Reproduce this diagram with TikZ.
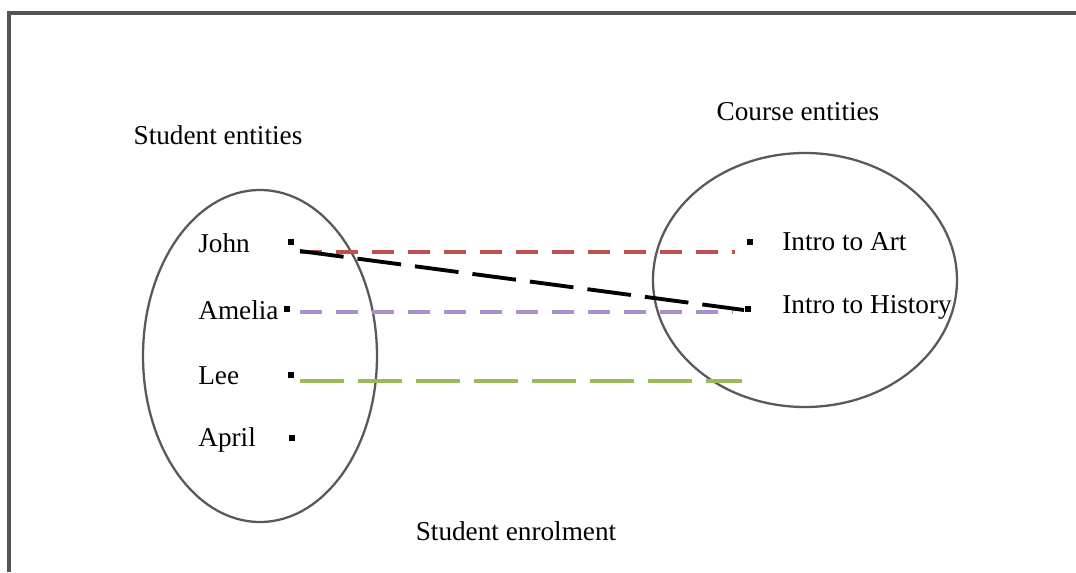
\documentclass[tikz,border=0pt]{standalone}
\usepackage{fontspec}
\setmainfont{Liberation Serif}
\usepackage{xcolor}
\usepackage{tikz}
\usetikzlibrary{positioning,calc}

\definecolor{linkred}{HTML}{C0504D}
\definecolor{linkpurple}{HTML}{A68FCA}
\definecolor{linkgreen}{HTML}{9BBB59}
\definecolor{framegray}{HTML}{555555}

\begin{document}
\begin{tikzpicture}[x=0.02cm,y=-0.02cm,
      entity/.style={rectangle,fill=black,minimum size=3.2pt,inner sep=0pt},
      lbl/.style={font=\fontsize{15.5}{18}\selectfont,inner sep=0pt,anchor=west},
      heading/.style={font=\fontsize{15.5}{18}\selectfont,inner sep=0pt},
      setline/.style={draw=black!65,line width=1.3pt},
      link/.style={line width=2.2pt,dash pattern=on 12.5pt off 8pt},
      longlink/.style={line width=2.2pt,dash pattern=on 25pt off 8pt}]
    \useasboundingbox (0,0) rectangle (1076,572);
    \draw[framegray,line width=2.3pt] (1076,13) -- (9,13) -- (9,572);
    % the two sets
    \draw[setline] (260,356) ellipse [x radius=117,y radius=166];
    \draw[setline] (805,280) ellipse [x radius=152,y radius=127];
    \node[heading] (stud) at (218,135) {Student entities};
    \node[heading] (course) at (798,112) {Course entities};
    \node[heading] (enrol) at (516,531) {Student enrolment};
    % students
    \node[entity] (john) at (291,242) {};
    \node[entity] (amelia) at (287,309) {};
    \node[entity] (lee) at (291,375) {};
    \node[entity] (april) at (292,438) {};
    \node[lbl] (johnlbl) at (198,243) {John};
    \node[lbl] (amelialbl) at (198,310) {Amelia};
    \node[lbl] (leelbl) at (198,376) {Lee};
    \node[lbl] (aprillbl) at (198,440) {April};
    % courses
    \node[entity] (art) at (750,242) {};
    \node[entity] (hist) at (748,309) {};
    \node[lbl] (artlbl) at (782,242) {Intro to Art};
    \node[lbl] (histlbl) at (782,307) {Intro to History};
    \coordinate (leeend) at (742,381);
    % enrolments
    \draw[link,linkred] ($(john)+(9,10)$) -- ($(art)+(-15,10)$);
    \draw[link,linkpurple] ($(amelia)+(13,3)$) -- ($(hist)+(-15,3)$);
    \draw[longlink,linkgreen] ($(lee)+(9,6)$) -- (leeend);
    \draw[longlink,black] ($(john)+(9,9)$) -- ($(hist)+(-4,1)$);
\end{tikzpicture}
\end{document}
